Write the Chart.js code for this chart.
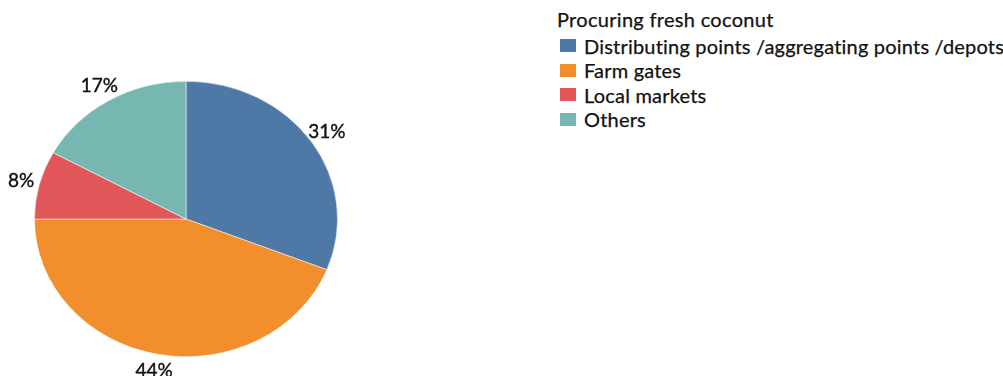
<!DOCTYPE html>
<html>
<head>
<meta charset="utf-8">
<script src="https://cdn.jsdelivr.net/npm/chart.js@4"></script>
<style>
  body { margin: 0; background: #fff; font-family: Lato, "Open Sans", sans-serif; }
  #wrap { position: relative; width: 1003px; height: 376px; overflow: hidden; }
  #pieBox { position: absolute; left: 0; top: 0; width: 372px; height: 376px; }
  #legend { position: absolute; left: 557px; top: 7px; width: 446px; white-space: nowrap; color: #111; font-size: 20px; line-height: 24.5px; -webkit-text-stroke: 0.25px #111; }
  #legend .title { margin-bottom: 2px; letter-spacing: 0.3px; }
  #legend .item { display: flex; align-items: center; height: 24.5px; letter-spacing: 0.2px; }
  #legend .box { width: 16px; height: 13px; margin: 0 8px 0 3px; flex: none; }
</style>
</head>
<body>
<div id="wrap">
  <div id="pieBox"><canvas id="pieChart" width="372" height="376"></canvas></div>
  <div id="legend"></div>
</div>
<script>
const legendTitle = "Procuring fresh coconut";
const categories = ["Distributing points /aggregating points /depots", "Farm gates", "Local markets", "Others"];
const shares = [31, 44, 8, 17];
const colors = ["#4e79a7", "#f28e2b", "#e15759", "#76b7b2"];

// the pie is drawn a little wider than tall
const stretchX = 1.1;

// legend
const legend = document.getElementById("legend");
legend.innerHTML = `<div class="title">${legendTitle}</div>` +
  categories.map((c, i) => `
    <div class="item"><span class="box" style="background:${colors[i]}"></span>${c}</div>
  `).join("");

const ovalPie = {
  id: "ovalPie",
  beforeDatasetsDraw(chart) {
    const arc = chart.getDatasetMeta(0).data[0];
    const ctx = chart.ctx;
    ctx.save();
    ctx.translate(arc.x, arc.y);
    ctx.scale(stretchX, 1);
    ctx.translate(-arc.x, -arc.y);
  },
  afterDatasetsDraw(chart) {
    const ctx = chart.ctx;
    ctx.restore();

    // percentage labels outside each slice
    ctx.save();
    ctx.font = "19px Lato, 'Open Sans', sans-serif";
    ctx.fillStyle = "#111";
    ctx.strokeStyle = "#111";
    ctx.lineWidth = 0.4;
    ctx.textAlign = "center";
    ctx.textBaseline = "middle";
    chart.getDatasetMeta(0).data.forEach((arc, i) => {
      const mid = (arc.startAngle + arc.endAngle) / 2;
      const r = arc.outerRadius + 17;
      const x = arc.x + Math.cos(mid) * r * stretchX;
      const y = arc.y + Math.sin(mid) * r;
      ctx.fillText(shares[i] + "%", x, y);
      ctx.strokeText(shares[i] + "%", x, y);
    });
    ctx.restore();
  }
};

new Chart(document.getElementById("pieChart"), {
  type: "pie",
  data: {
    labels: categories,
    datasets: [{
      data: shares,
      backgroundColor: colors,
      borderColor: "#ffffff",
      borderWidth: 0.5
    }]
  },
  options: {
    responsive: false,
    animation: false,
    layout: { padding: { top: 81, bottom: 19, left: 48, right: 48 } },
    plugins: {
      legend: { display: false },
      tooltip: { enabled: false }
    }
  },
  plugins: [ovalPie]
});
</script>
</body>
</html>
